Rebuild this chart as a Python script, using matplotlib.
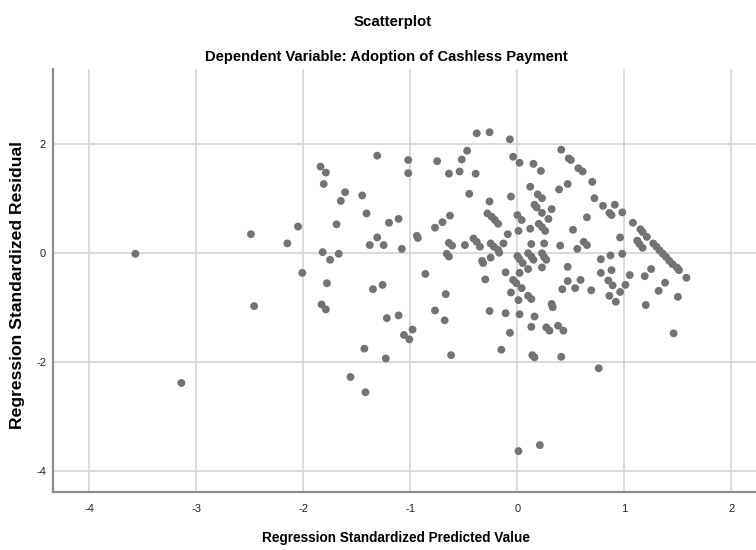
import matplotlib
matplotlib.use("Agg")
import matplotlib.pyplot as plt

# Standardized predicted value (x) and standardized residual (y)
pred = [
    -3.57, -3.14, -2.49, -2.46, -2.15, -2.05, -2.01, -1.84, -1.79, -1.81,
    -1.61, -1.65, -1.69, -1.82, -1.67, -1.75, -1.78, -1.83, -1.79, -1.31,
    -1.45, -1.41, -1.20, -1.11, -1.31, -1.38, -1.25, -1.08, -1.35, -1.26,
    -1.22, -1.11, -1.06, -1.01, -0.98, -1.43, -1.23, -1.56, -1.42, -1.02,
    -1.02, -0.75, -0.64, -0.54, -0.52, -0.47, -0.38, -0.26, -0.39, -0.45,
    -0.26, -0.28, -0.24, -0.21, -0.18, -0.77, -0.70, -0.63, -0.94, -0.93,
    -0.64, -0.61, -0.49, -0.41, -0.38, -0.35, -0.25, -0.22, -0.18, -0.17,
    -0.13, -0.66, -0.64, -0.33, -0.32, -0.25, -0.11, -0.30, -0.86, -0.67,
    -0.77, -0.68, -0.26, -0.11, -0.07, -0.06, -0.09, -0.06, -0.07, -0.15,
    -0.62, -0.04, -0.01, 0.04, 0.01, 0.02, 0.01, -0.04, 0.02, 0.15,
    0.22, 0.41, 0.48, 0.50, 0.57, 0.61, 0.70, 0.72, 0.80, 0.91,
    0.86, 0.88, 0.98, 1.08, 1.15, 1.17, 1.21, 1.12, 1.14, 1.17,
    1.27, 1.30, 1.33, 1.36, 1.39, 1.42, 1.45, 1.49, 1.51, 1.58,
    1.25, 1.19, 1.38, 1.32, 1.50, 1.20, 1.46, 0.12, 0.19, 0.23,
    0.16, 0.18, 0.32, 0.23, 0.29, 0.00, 0.04, 0.39, 0.47, 0.65,
    0.52, 0.20, 0.23, 0.26, 0.12, 0.01, 0.13, 0.25, 0.40, 0.56,
    0.62, 0.65, 0.96, 0.98, 0.87, 0.78, 0.78, 0.88, 1.05, 0.85,
    0.89, 1.01, 0.96, 0.86, 0.92, 0.69, 0.59, 0.54, 0.47, 0.42,
    0.47, 0.23, 0.25, 0.27, 0.10, 0.13, 0.15, 0.00, 0.02, 0.05,
    0.23, 0.10, 0.02, 0.10, 0.13, 0.32, 0.33, 0.16, 0.13, 0.27,
    0.30, 0.38, 0.43, 0.14, 0.16, 0.41, 0.76, 0.21,
]
resid = [
    -0.01, -2.38, 0.35, -0.97, 0.18, 0.49, -0.36, 1.59, 1.48, 1.27,
    1.12, 0.96, 0.53, 0.02, -0.01, -0.12, -0.55, -0.94, -1.03, 1.79,
    1.06, 0.73, 0.56, 0.63, 0.29, 0.15, 0.15, 0.08, -0.66, -0.58,
    -1.19, -1.14, -1.50, -1.58, -1.40, -1.75, -1.93, -2.27, -2.55, 1.71,
    1.47, 1.69, 1.46, 1.50, 1.72, 1.88, 2.20, 2.22, 1.46, 1.09,
    0.95, 0.73, 0.67, 0.61, 0.54, 0.47, 0.57, 0.69, 0.32, 0.28,
    0.19, 0.14, 0.15, 0.27, 0.21, 0.12, 0.18, 0.12, 0.06, 0.01,
    0.18, -0.01, -0.06, -0.14, -0.18, -0.08, -0.35, -0.48, -0.38, -0.75,
    -1.05, -1.23, -1.06, -1.10, 2.09, 1.04, 0.35, -0.72, -1.46, -1.77,
    -1.87, -0.49, -0.55, -0.64, -0.86, -1.12, -3.63, 1.77, 1.66, 1.64,
    1.51, 1.90, 1.74, 1.71, 1.56, 1.50, 1.31, 1.01, 0.87, 0.89,
    0.74, 0.70, 0.75, 0.56, 0.44, 0.39, 0.30, 0.23, 0.17, 0.10,
    0.18, 0.12, 0.05, -0.01, -0.07, -0.14, -0.20, -0.26, -0.31, -0.45,
    -0.29, -0.42, -0.54, -0.69, -0.80, -0.95, -1.47, 1.22, 1.08, 1.01,
    0.89, 0.84, 0.81, 0.74, 0.63, 0.70, 0.61, 1.17, 1.27, 0.66,
    0.43, 0.54, 0.48, 0.41, 0.45, 0.41, 0.17, 0.18, 0.14, 0.08,
    0.21, 0.15, 0.29, -0.01, -0.04, -0.11, -0.36, -0.31, -0.40, -0.50,
    -0.59, -0.58, -0.71, -0.78, -0.89, -0.68, -0.49, -0.64, -0.51, -0.66,
    -0.25, 0.00, -0.07, -0.12, 0.00, -0.06, -0.12, -0.05, -0.11, -0.18,
    -0.26, -0.29, -0.36, -0.78, -0.84, -0.93, -0.99, -1.16, -1.35, -1.36,
    -1.42, -1.33, -1.42, -1.87, -1.91, -1.90, -2.11, -3.52,
]

x_ticks = [-4, -3, -2, -1, 0, 1, 2]
y_ticks = [-4, -2, 0, 2]

plt.rcParams["font.family"] = ["Liberation Sans", "DejaVu Sans"]

fig = plt.figure(figsize=(7.56, 5.5), dpi=100)
ax = fig.add_axes([53 / 756, 58 / 550, 703 / 756, 423 / 550])

ax.scatter(pred, resid, s=32, color="#737373", edgecolors="none", zorder=3)

ax.set_xlim(-4.34, 2.23)
ax.set_ylim(-4.38, 3.38)
ax.set_xticks(x_ticks)
ax.set_yticks(y_ticks)
ax.set_xticklabels([str(t) for t in x_ticks])
ax.set_yticklabels([str(t) for t in y_ticks])
ax.tick_params(length=0, labelsize=8, colors="#222222")
ax.tick_params(axis="x", pad=9)
ax.tick_params(axis="y", pad=5)

ax.grid(True, color="#d4d4d4", linewidth=1.2, zorder=0)
ax.set_axisbelow(True)
for side in ("top", "right"):
    ax.spines[side].set_visible(False)
for side in ("left", "bottom"):
    ax.spines[side].set_color("#8c8c8c")
    ax.spines[side].set_linewidth(1.6)

fig.text(393 / 756, 1 - 22 / 550, "Scatterplot", ha="center", va="center",
         fontsize=10.8, fontweight="bold")
fig.text(386 / 756, 1 - 57 / 550, "Dependent Variable: Adoption of Cashless Payment",
         ha="center", va="center", fontsize=10.6, fontweight="bold")
fig.text(396 / 756, 1 - 538 / 550, "Regression Standardized Predicted Value",
         ha="center", va="center", fontsize=9.8, fontweight="bold")
fig.text(18 / 756, 1 - 285 / 550, "Regression Standardized Residual",
         ha="center", va="center", rotation=90, fontsize=12.6, fontweight="bold")

fig.savefig("out.png", dpi=100, facecolor="white")
